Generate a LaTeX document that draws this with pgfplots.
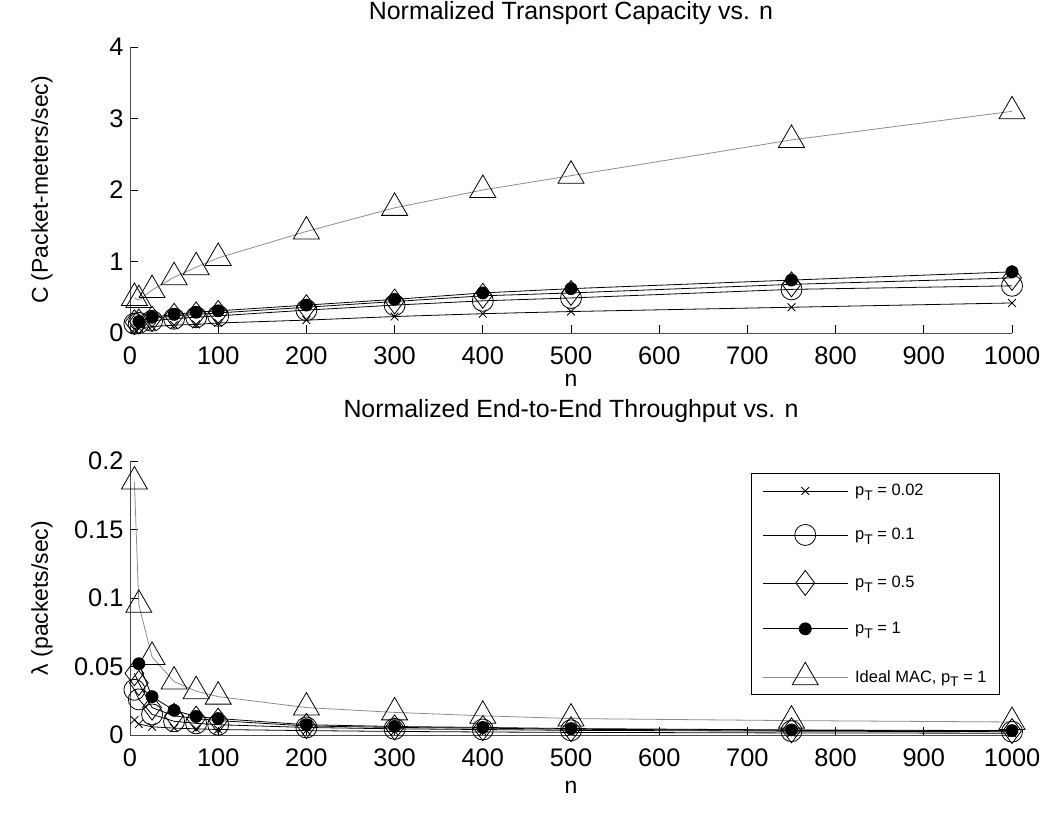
\documentclass[border=0pt]{standalone}
\usepackage{fontspec}
\setmainfont{Liberation Sans}
\usepackage{pgfplots}
\pgfplotsset{compat=1.18}
\newcommand\sub[1]{\raisebox{-0.5ex}{\fontsize{14}{14}\selectfont #1}}
\begin{document}
\begin{tikzpicture}[x=1bp,y=1bp]
\useasboundingbox (0,0) rectangle (1042,818);
\pgfplotsset{
 every axis/.append style={
  scale only axis, width=882bp,
  xmin=0,xmax=1000,
  axis x line=bottom, axis y line=left,
  axis line style={-, black!70, line width=0.9bp},
  tick align=inside, major tick length=8bp,
  tick style={black, line width=0.8bp},
  xtick={0,100,...,1000},
  /pgf/number format/assume math mode=true,
  /pgf/number format/1000 sep={},
  ticklabel style={font=\fontsize{25.5}{30}\selectfont},
  xticklabel style={yshift=-10bp},
  yticklabel style={xshift=-3bp},
  label style={font=\fontsize{23}{28}\selectfont},
  title style={font=\fontsize{25}{30}\selectfont, at={(axis description cs:0.5,1)}, anchor=center},
  xlabel style={at={(axis description cs:0.5,0)}, anchor=center},
  ylabel style={at={(axis description cs:0,0.5)}, anchor=center, yshift=88bp},
  clip=false,
  xlabel={n},
 },
 sx/.style={black, line width=0.8bp, mark=x, mark size=5.5bp, mark options={solid, line width=0.8bp}},
 so/.style={black, line width=0.8bp, mark=o, mark size=10.5bp, mark options={solid, line width=0.8bp}},
 sd/.style={black, line width=0.8bp, mark=diamond, mark size=12.5bp, mark options={solid, line width=0.8bp}},
 sb/.style={black, line width=0.8bp, mark=*, mark size=6bp, mark options={solid, fill=black}},
 st/.style={black!45, line width=0.8bp, mark=triangle, mark size=15bp, mark options={solid, black, line width=0.8bp}},
}
% ---------------- top -----------------
\begin{axis}[
  at={(130bp,485bp)}, anchor=south west, height=286bp,
  ymin=0, ymax=4, ytick={0,1,2,3,4},
  title={Normalized Transport Capacity vs. n},
  title style={yshift=28bp},
  xlabel style={yshift=-47bp},
  ylabel={C (Packet-meters/sec)},
]
\addplot[sx] coordinates {(5,0.05) (10,0.07) (25,0.09) (50,0.11) (75,0.12) (100,0.14) (200,0.18) (300,0.23) (400,0.27) (500,0.30) (750,0.36) (1000,0.42)};
\addplot[so] coordinates {(5,0.13) (10,0.14) (25,0.17) (50,0.20) (75,0.22) (100,0.24) (200,0.32) (300,0.39) (400,0.45) (500,0.49) (750,0.61) (1000,0.66)};
\addplot[sd] coordinates {(5,0.15) (10,0.16) (25,0.20) (50,0.24) (75,0.26) (100,0.28) (200,0.36) (300,0.44) (400,0.52) (500,0.56) (750,0.68) (1000,0.77)};
\addplot[sb] coordinates {(10,0.16) (25,0.22) (50,0.26) (75,0.29) (100,0.31) (200,0.39) (300,0.47) (400,0.56) (500,0.62) (750,0.74) (1000,0.855)};
\addplot[st] coordinates {(5,0.49) (10,0.46) (25,0.60) (50,0.78) (75,0.92) (100,1.05) (200,1.42) (300,1.75) (400,2.0) (500,2.2) (750,2.7) (1000,3.1)};
\end{axis}
% ---------------- bottom -----------------
\begin{axis}[
  at={(130bp,83bp)}, anchor=south west, height=274bp,
  ymin=0, ymax=0.2, ytick={0,0.05,0.1,0.15,0.2},
  scaled y ticks=false,
  yticklabel style={/pgf/number format/fixed, /pgf/number format/precision=2},
  title={Normalized End-to-End Throughput vs. n},
  title style={yshift=44bp},
  xlabel style={yshift=-52bp},
  ylabel={λ (packets/sec)},
  legend cell align=left,
  legend image code/.code={\draw[mark repeat=2,mark phase=2,#1] plot coordinates {(0bp,0bp) (42.5bp,0bp) (85bp,0bp)};},
  legend style={at={(axis description cs:0.9864,0.956)}, anchor=north east,
    draw=black, line width=0.9bp, font=\fontsize{16.5}{20}\selectfont,
    row sep=25bp, column sep=5bp, inner xsep=11bp, inner ysep=9bp},
]
\addplot[sx] coordinates {(5,0.011) (10,0.008) (25,0.006) (50,0.005) (75,0.0045) (100,0.004) (200,0.0032) (300,0.0026) (400,0.0022) (500,0.0019) (750,0.0015) (1000,0.0013)};
\addlegendentry{p\sub{T} = 0.02}
\addplot[so] coordinates {(5,0.033) (10,0.026) (25,0.015) (50,0.010) (75,0.0085) (100,0.0075) (200,0.0055) (300,0.0045) (400,0.004) (500,0.0034) (750,0.0028) (1000,0.0024)};
\addlegendentry{p\sub{T} = 0.1}
\addplot[sd] coordinates {(5,0.045) (10,0.038) (25,0.020) (50,0.014) (75,0.012) (100,0.0105) (200,0.0066) (300,0.0055) (400,0.005) (500,0.0042) (750,0.0034) (1000,0.0029)};
\addlegendentry{p\sub{T} = 0.5}
\addplot[sb] coordinates {(10,0.052) (25,0.028) (50,0.018) (75,0.0135) (100,0.012) (200,0.0075) (300,0.0062) (400,0.0055) (500,0.0047) (750,0.0037) (1000,0.0032)};
\addlegendentry{p\sub{T} = 1}
\addplot[st] coordinates {(5,0.185) (10,0.095) (25,0.057) (50,0.039) (75,0.032) (100,0.028) (200,0.020) (300,0.0165) (400,0.014) (500,0.012) (750,0.0105) (1000,0.0095)};
\addlegendentry{Ideal MAC, p\sub{T} = 1}
\end{axis}
\end{tikzpicture}
\end{document}
